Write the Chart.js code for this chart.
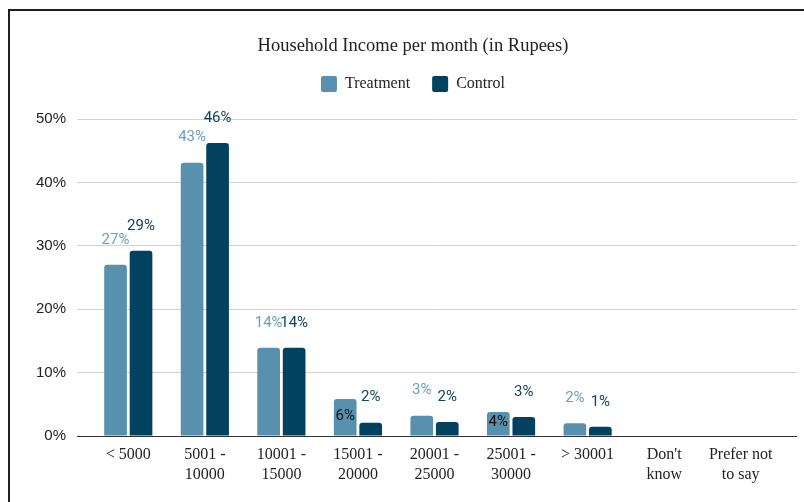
<!DOCTYPE html>
<html>
<head>
<meta charset="utf-8">
<script src="https://cdn.jsdelivr.net/npm/chart.js@4"></script>
<style>
  html, body { margin: 0; padding: 0; background: #ffffff; }
  #wrap { position: relative; width: 804px; height: 502px; overflow: hidden; }
  #frame { position: absolute; left: 8px; top: 9px; width: 796px; height: 493px;
           border-top: 2px solid #1e1e1e; border-left: 2px solid #1e1e1e; box-sizing: border-box; pointer-events: none; }
  canvas { position: absolute; left: 0; top: 0; }
</style>
</head>
<body>
<div id="wrap">
  <div id="frame"></div>
  <canvas id="c" width="804" height="502"></canvas>
</div>
<script>
const categories = [
  '< 5000', ['5001 -', '10000'], ['10001 -', '15000'], ['15001 -', '20000'],
  ['20001 -', '25000'], ['25001 -', '30000'], '> 30001', ["Don't", 'know'], ['Prefer not', 'to say']
];
const treatment = [27.0, 43.1, 13.9, 5.85, 3.2, 3.8, 2.0, 0, 0];
const control   = [29.2, 46.2, 13.9, 2.1, 2.2, 3.0, 1.45, 0, 0];
const yTicks = [0, 10, 20, 30, 40, 50];

const SERIF = '"Liberation Serif", "Times New Roman", serif';
const SANS = '"Liberation Sans", Arial, sans-serif';

const legendSpacer = {
  id: 'legendSpacer',
  beforeInit(chart) {
    const fit = chart.legend.fit;
    chart.legend.fit = function () {
      fit.bind(chart.legend)();
      this.height += 17;
    };
  }
};

const gridExtend = {
  id: 'gridExtend',
  beforeDatasetsDraw(chart) {
    const { ctx, chartArea, scales } = chart;
    const y = scales.y;
    ctx.save();
    ctx.lineWidth = 1;
    y.ticks.forEach(t => {
      const py = Math.round(y.getPixelForValue(t.value) - 0.5) + 0.5;
      ctx.strokeStyle = t.value === 0 ? '#333333' : '#d2d2d2';
      ctx.beginPath();
      ctx.moveTo(chartArea.right - 1, py);
      ctx.lineTo(797, py);
      ctx.stroke();
    });
    ctx.restore();
  }
};

const barLabels = {
  id: 'barLabels',
  afterDatasetsDraw(chart, args, opts) {
    const { ctx } = chart;
    ctx.save();
    ctx.textAlign = 'center';
    ctx.textBaseline = 'middle';
    ctx.font = '15px Roboto, "Liberation Sans", sans-serif';
    chart.data.datasets.forEach((ds, di) => {
      const meta = chart.getDatasetMeta(di);
      const inside = (opts.inside && opts.inside[di]) || [];
      meta.data.forEach((el, i) => {
        const v = ds.data[i];
        if (!v) return;
        const txt = Math.round(v) + '%';
        if (inside.includes(i)) {
          ctx.fillStyle = '#111111';
          ctx.fillText(txt, el.x, (el.y + el.base) / 2 - 1);
        } else {
          ctx.fillStyle = opts.colors[di];
          ctx.fillText(txt, el.x, el.y - 25);
        }
      });
    });
    ctx.restore();
  }
};

new Chart(document.getElementById('c'), {
  type: 'bar',
  data: {
    labels: categories,
    datasets: [
      { label: 'Treatment', data: treatment, backgroundColor: '#5891ad',
        borderRadius: { topLeft: 3, topRight: 3, bottomLeft: 0, bottomRight: 0 }, borderSkipped: 'bottom',
        categoryPercentage: 0.666, barPercentage: 0.89 },
      { label: 'Control', data: control, backgroundColor: '#02425e',
        borderRadius: { topLeft: 3, topRight: 3, bottomLeft: 0, bottomRight: 0 }, borderSkipped: 'bottom',
        categoryPercentage: 0.666, barPercentage: 0.89 }
    ]
  },
  options: {
    responsive: false,
    animation: false,
    devicePixelRatio: 1,
    layout: { padding: { top: 37, left: 34, right: 12, bottom: 0 } },
    plugins: {
      title: {
        display: true,
        text: 'Household Income per month (in Rupees)',
        color: '#222222',
        font: { family: SERIF, size: 18.5, weight: 'normal', lineHeight: 1 },
        padding: { top: 0, bottom: -1.5 }
      },
      legend: {
        display: true,
        position: 'top',
        labels: {
          color: '#222222',
          font: { family: SERIF, size: 16 },
          boxWidth: 16, boxHeight: 16, padding: 22,
          useBorderRadius: true, borderRadius: 2
        }
      },
      tooltip: { enabled: false },
      barLabels: { colors: ['#68a0c0', '#0f4462'], inside: { 0: [3, 5] } }
    },
    scales: {
      x: {
        grid: { display: false, drawTicks: false },
        border: { display: false },
        ticks: {
          color: '#222222',
          font: { family: SERIF, size: 16, lineHeight: 1.3 },
          padding: 8, maxRotation: 0, autoSkip: false
        },
        afterFit(s) { s.height = 66; }
      },
      y: {
        min: 0, max: 50,
        afterBuildTicks(s) { s.ticks = yTicks.map(v => ({ value: v })); },
        grid: {
          color: c => (c.tick && c.tick.value === 0) ? '#333333' : '#d2d2d2',
          tickLength: 13, drawTicks: true, lineWidth: 1
        },
        border: { display: false },
        ticks: {
          color: '#222222',
          font: { family: SANS, size: 15 },
          padding: 11,
          callback: v => v + '%'
        },
        afterFit(s) { s.width = 56; }
      },
      yRight: {
        type: 'linear',
        position: 'right',
        display: true,
        grid: { display: false, drawTicks: false },
        border: { display: false },
        ticks: { display: false },
        afterFit(s) { s.width = 13; }
      }
    }
  },
  plugins: [legendSpacer, gridExtend, barLabels]
});
</script>
</body>
</html>
